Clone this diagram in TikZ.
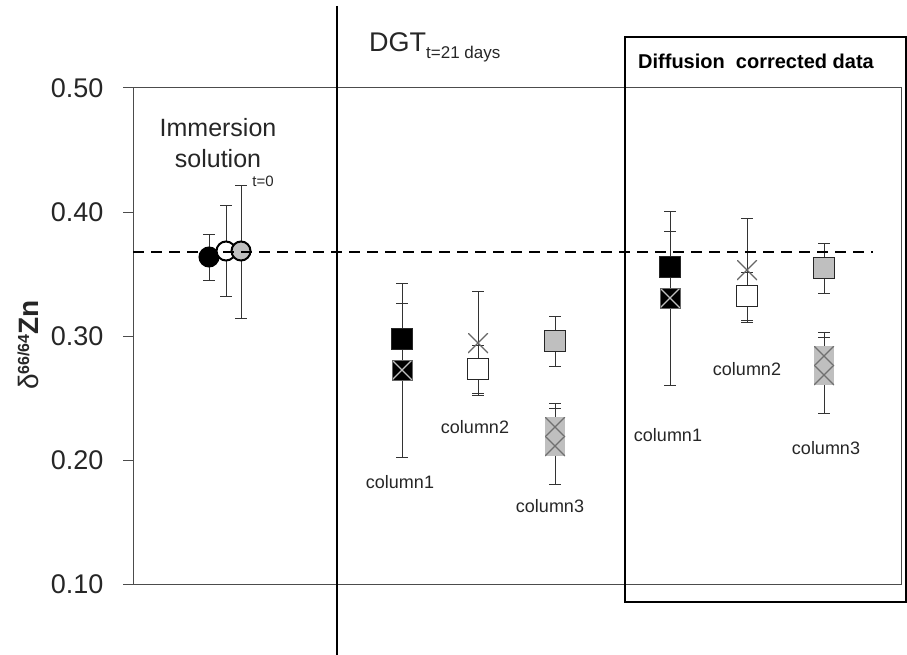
\documentclass[tikz,border=0pt]{standalone}
\usepackage{fontspec}
\setmainfont{Liberation Sans}
\usetikzlibrary{positioning}
\definecolor{markgrey}{HTML}{BFBFBF}
\definecolor{crossgrey}{HTML}{707070}
\tikzset{
	sq/.style = {draw=black!85, line width=1.3pt, minimum size=21pt, inner sep=0pt},
	blacksq/.style = {sq, fill=black},
	whitesq/.style = {sq, fill=white},
	greysq/.style = {sq, fill=markgrey},
	crossmark/.style =
    {
			minimum size=20pt, inner sep=0pt,
			path picture =
            {
					\draw[#1, line width=1.1pt]
						(path picture bounding box.north west) -- (path picture bounding box.south east)
						(path picture bounding box.south west) -- (path picture bounding box.north east);
            }
    },
	blackx/.style = {crossmark=black!25, fill=black, draw=black!60, line width=1pt},
	greyx/.style = {crossmark=crossgrey, fill=markgrey},
	plainx/.style = {crossmark=black!60},
	dot/.style = {circle, draw=black, line width=2pt, minimum size=19pt, inner sep=0pt},
	errline/.style = {draw=black!80, line width=1pt},
	collabel/.style = {font=\fontsize{18}{20}\selectfont, text=black!85},
	ticklabel/.style = {anchor=east, font=\fontsize{27}{30}\selectfont, text=black!85}
}
\newcommand{\errbar}[3]{%
	\draw[errline] (#1,#2) -- (#1,#3);
	\draw[errline] (#1-6,#2) -- (#1+6,#2);
	\draw[errline] (#1-6,#3) -- (#1+6,#3);
}

\begin{document}
\begin{tikzpicture}[x=1pt, y=-1pt]
    \useasboundingbox (0,0) rectangle (907,655);

    % Frame and axis
    \draw[black!70, line width=1pt] (133,88) rectangle (901,584);
    \foreach \ty/\tlab in {88/0.50, 212/0.40, 336/0.30, 460/0.20, 584/0.10}
    {
        \draw[black!70, line width=1pt] (123,\ty) -- (133,\ty);
        \node (tick_\tlab) [ticklabel] at (107,\ty) {\tlab};
    }
    \node (ylabel) [rotate=90, text=black!85] at (28,345)
        {\fontsize{28}{30}\selectfont δ\raisebox{9pt}{\fontsize{16}{18}\selectfont\bfseries 66/64}\bfseries Zn};

    % Error bars
    \errbar{209}{234}{280}
    \errbar{226}{206}{296}
    \errbar{241}{186}{318}

    \errbar{402}{303}{375}
    \errbar{402}{283}{457}
    \errbar{478}{291}{395}
    \errbar{478}{345}{393}
    \errbar{555}{316}{366}
    \errbar{555}{403}{451}
    \errbar{555}{408}{484}

    \errbar{670}{231}{303}
    \errbar{670}{211}{385}
    \errbar{747}{218}{322}
    \errbar{747}{272}{320}
    \errbar{824}{243}{293}
    \errbar{824}{332}{380}
    \errbar{824}{337}{413}

    % Markers
    \node (imm_black) [dot, fill=black] at (209,257) {};
    \node (imm_white) [dot, fill=white] at (226,251) {};
    \node (imm_grey) [dot, fill=markgrey] at (241,251) {};

    \node (dgt_c1_sq) [blacksq] at (402,339) {};
    \node (dgt_c1_x) [blackx] at (402,370) {};
    \node (dgt_c2_x) [plainx] at (478,343) {};
    \node (dgt_c2_sq) [whitesq] at (478,369) {};
    \node (dgt_c3_sq) [greysq] at (555,341) {};
    \node (dgt_c3_xa) [greyx] at (555,427) {};
    \node (dgt_c3_xb) [greyx] at (555,446) {};

    \node (cor_c1_sq) [blacksq] at (670,267) {};
    \node (cor_c1_x) [blackx] at (670,298) {};
    \node (cor_c2_x) [plainx] at (747,270) {};
    \node (cor_c2_sq) [whitesq] at (747,296) {};
    \node (cor_c3_sq) [greysq] at (824,268) {};
    \node (cor_c3_xa) [greyx] at (824,356) {};
    \node (cor_c3_xb) [greyx] at (824,375) {};

    % Reference line
    \draw[black, line width=2.5pt, dash pattern=on 11pt off 7pt] (133,252) -- (873,252);

    % Separators
    \draw[black, line width=2pt] (337,6) -- (337,655);
    \draw[black, line width=2pt] (625,37) rectangle (906,602);

    % Labels
    \node (immersion) [align=center, font=\fontsize{25}{31}\selectfont, text=black!85] at (218,143) {Immersion\\solution};
    \node (t_zero) [font=\fontsize{15}{17}\selectfont, text=black!85] at (263,181) {t=0};
    \node (dgt) [anchor=base west, inner sep=0pt, text=black!85] at (369,52)
        {\fontsize{27}{30}\selectfont DGT\raisebox{-7pt}{\fontsize{17}{20}\selectfont t=21 days}};
    \node (corrected) [anchor=west, inner sep=0pt, font=\fontsize{20}{24}\selectfont\bfseries] at (638,61) {Diffusion\ \ corrected data};

    \node (dgt_c1_lab) [collabel] at (400,482) {column1};
    \node (dgt_c2_lab) [collabel] at (475,427) {column2};
    \node (dgt_c3_lab) [collabel] at (550,506) {column3};
    \node (cor_c1_lab) [collabel] at (668,435) {column1};
    \node (cor_c2_lab) [collabel] at (747,369) {column2};
    \node (cor_c3_lab) [collabel] at (826,448) {column3};
\end{tikzpicture}
\end{document}
